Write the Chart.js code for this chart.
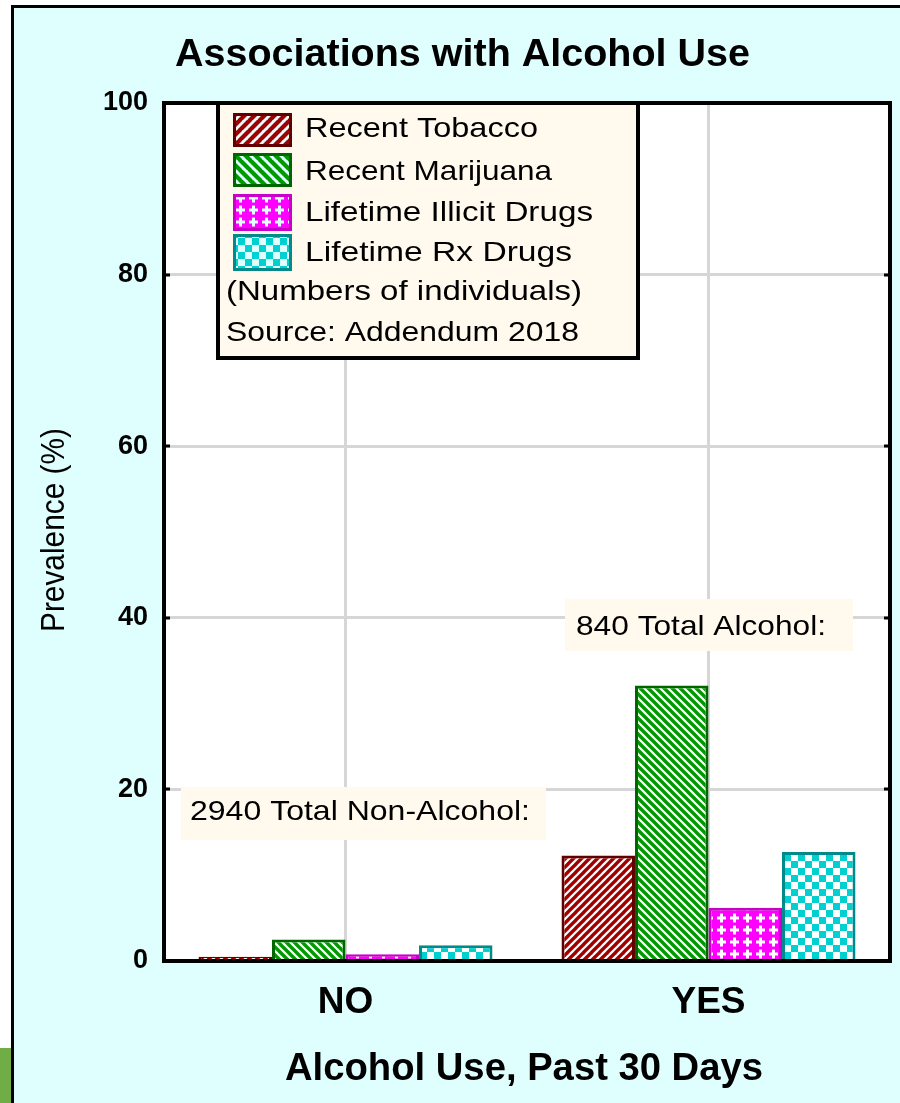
<!DOCTYPE html>
<html><head><meta charset="utf-8">
<script src="https://cdn.jsdelivr.net/npm/chart.js@4.4.1/dist/chart.umd.min.js"></script>
<style>html,body{margin:0;padding:0;background:#fff;overflow:hidden}#wrap{width:900px;height:1103px;position:relative}canvas{display:block}</style>
</head><body><div id="wrap"><canvas id="c" width="900" height="1103"></canvas></div>
<script>
// ---- data ----
const categories = ['NO', 'YES'];
const seriesNames = ['Recent Tobacco', 'Recent Marijuana', 'Lifetime Illicit Drugs', 'Lifetime Rx Drugs'];
const tobacco = [0.5, 12.3];
const marijuana = [2.5, 32.1];
const illicit = [0.8, 6.2];
const rxDrugs = [1.85, 12.7];
const yTicks = [0, 20, 40, 60, 80, 100];
const titleText = 'Associations with Alcohol Use';
const yTitle = 'Prevalence (%)';
const xTitle = 'Alcohol Use, Past 30 Days';
const notes = ['(Numbers of individuals)', 'Source: Addendum 2018'];
const annotations = ['2940 Total Non-Alcohol:', '840 Total Alcohol:'];

// ---- styles ----
const FONT = '"Liberation Sans", Arial, sans-serif';
const PAGE_BG = '#DFFFFF';
const CREAM = '#FFF9EE';
const GRID = '#D6D6D6';

function makePattern(kind, bg, p) {
  const c = document.createElement('canvas');
  const g = c.getContext('2d');
  if (kind === 'fwd' || kind === 'back') {
    p = p || 8; c.width = p; c.height = p;
    g.fillStyle = bg; g.fillRect(0, 0, p, p);
    g.strokeStyle = kind === 'fwd' ? '#A00000' : '#009900';
    g.lineWidth = p * 0.42;
    for (let k = -1; k <= 1; k++) {
      g.beginPath();
      if (kind === 'fwd') { g.moveTo(k * p - 1, p + 1); g.lineTo(k * p + p + 1, -1); }
      else { g.moveTo(k * p - 1, -1); g.lineTo(k * p + p + 1, p + 1); }
      g.stroke();
    }
  } else if (kind === 'plus') {
    c.width = 13; c.height = 12;
    g.fillStyle = '#FF00FF'; g.fillRect(0, 0, 13, 12);
    g.fillStyle = bg;
    g.fillRect(2, 4.5, 9, 3);
    g.fillRect(5, 1.5, 3, 9);
  } else if (kind === 'check') {
    c.width = 14; c.height = 14;
    g.fillStyle = bg; g.fillRect(0, 0, 14, 14);
    g.fillStyle = '#00D0D0';
    g.fillRect(0, 0, 7, 7); g.fillRect(7, 7, 7, 7);
  }
  return g.createPattern(c, 'repeat');
}

const kinds = ['fwd', 'back', 'plus', 'check'];
const borders = ['#600000', '#006600', '#C800C8', '#008B8B'];
const seriesValues = [tobacco, marijuana, illicit, rxDrugs];

function fitText(ctx, text, x, y, w, size, bold) {
  ctx.save();
  ctx.font = (bold ? 'bold ' : '') + size + 'px ' + FONT;
  ctx.textBaseline = 'alphabetic';
  ctx.textAlign = 'left';
  const m = ctx.measureText(text).width;
  ctx.translate(x, y);
  ctx.scale(w / m, 1);
  ctx.fillStyle = '#000';
  ctx.fillText(text, 0, 0);
  ctx.restore();
}

const decor = {
  id: 'decor',
  beforeDraw(chart) {
    const ctx = chart.ctx, a = chart.chartArea;
    ctx.save();
    ctx.fillStyle = '#FFFFFF'; ctx.fillRect(0, 0, 900, 1103);
    ctx.fillStyle = PAGE_BG; ctx.fillRect(12, 6, 888, 1097);
    ctx.fillStyle = '#000'; ctx.fillRect(11, 5, 889, 3); ctx.fillRect(11, 5, 3, 1098);
    ctx.fillStyle = '#70AD47'; ctx.fillRect(0, 1048, 11, 55);
    ctx.fillStyle = '#FFFFFF'; ctx.fillRect(a.left, a.top, a.right - a.left, a.bottom - a.top);
    ctx.restore();
  },
  afterDatasetsDraw(chart) {
    const ctx = chart.ctx;
    ctx.save();
    // legend box
    ctx.fillStyle = CREAM; ctx.fillRect(218, 103, 420, 255);
    ctx.lineWidth = 4; ctx.strokeStyle = '#000'; ctx.strokeRect(218, 103, 420, 255);
    const sw = [[233, 113, 59, 34], [233, 153, 59, 34], [233, 194, 59, 37], [233, 234, 59, 37]];
    const txt = [[305, 137, 233], [305, 180, 247], [305, 221, 288], [305, 261, 267]];
    for (let i = 0; i < 4; i++) {
      const [x, y, w, h] = sw[i];
      ctx.fillStyle = makePattern(kinds[i], PAGE_BG, 10);
      ctx.fillRect(x, y, w, h);
      ctx.lineWidth = 3; ctx.strokeStyle = borders[i];
      ctx.strokeRect(x + 1.5, y + 1.5, w - 3, h - 3);
      fitText(ctx, seriesNames[i], txt[i][0], txt[i][1], txt[i][2], 28, false);
    }
    fitText(ctx, notes[0], 226, 300, 356, 28, false);
    fitText(ctx, notes[1], 226, 341, 353, 28, false);
    // annotation boxes
    ctx.fillStyle = CREAM;
    ctx.fillRect(181, 787, 365, 53);
    ctx.fillRect(565, 599, 288, 52);
    fitText(ctx, annotations[0], 190, 820, 340, 28, false);
    fitText(ctx, annotations[1], 576, 635, 250, 28, false);
    ctx.restore();
  },
  afterDraw(chart) {
    const ctx = chart.ctx, a = chart.chartArea, ys = chart.scales.y;
    ctx.save();
    ctx.fillStyle = '#000';
    yTicks.forEach(v => {
      const py = Math.round(ys.getPixelForValue(v));
      ctx.fillRect(a.left, py - 1.5, 6, 3);
      ctx.fillRect(a.right - 6, py - 1.5, 6, 3);
    });
    ctx.lineWidth = 4; ctx.strokeStyle = '#000';
    ctx.strokeRect(a.left, a.top, a.right - a.left, a.bottom - a.top);
    fitText(ctx, titleText, 175, 66, 575, 38, true);
    fitText(ctx, xTitle, 285, 1080, 478, 38, true);
    ctx.save();
    ctx.font = '30px ' + FONT;
    const m = ctx.measureText(yTitle).width;
    ctx.translate(64, 530);
    ctx.rotate(-Math.PI / 2);
    ctx.scale(204 / m, 1.1);
    ctx.fillStyle = '#000';
    ctx.textAlign = 'center';
    ctx.textBaseline = 'alphabetic';
    ctx.fillText(yTitle, 0, 0);
    ctx.restore();
    ctx.restore();
  }
};

const datasets = seriesNames.map((name, i) => ({
  label: name,
  data: seriesValues[i],
  backgroundColor: makePattern(kinds[i], '#FFFFFF', 8),
  borderColor: borders[i],
  borderWidth: 3,
  categoryPercentage: 0.81,
  barPercentage: 1.0
}));

new Chart(document.getElementById('c'), {
  type: 'bar',
  data: { labels: categories, datasets },
  plugins: [decor],
  options: {
    responsive: false,
    animation: false,
    devicePixelRatio: 1,
    layout: { padding: { left: 0, right: 10, top: 103, bottom: 0 } },
    plugins: { legend: { display: false }, title: { display: false }, tooltip: { enabled: false } },
    scales: {
      x: {
        grid: { offset: false, color: GRID, lineWidth: 3, drawTicks: false },
        border: { display: false },
        ticks: { color: '#000', font: { family: FONT, size: 37, weight: 'bold' }, padding: 20 },
        afterFit: s => { s.height = 142; }
      },
      y: {
        min: 0, max: 100,
        afterBuildTicks: s => { s.ticks = yTicks.map(v => ({ value: v })); },
        grid: { color: GRID, lineWidth: 3, drawTicks: false },
        border: { display: false },
        ticks: { color: '#000', font: { family: FONT, size: 27, weight: 'bold' }, padding: 16 },
        afterFit: s => { s.width = 164; }
      }
    }
  }
});
</script>
</body></html>
